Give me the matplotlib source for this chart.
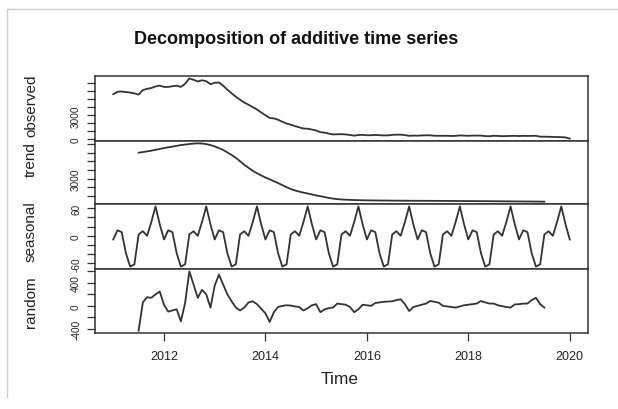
import numpy as np
import matplotlib
matplotlib.use("Agg")
import matplotlib.pyplot as plt
from matplotlib.lines import Line2D

plt.rcParams["font.family"] = ["Liberation Sans", "DejaVu Sans"]

# Monthly series starting January 2011
start_year = 2011
freq = 12

observed = [
    5640, 5950, 5980, 5920, 5850, 5750,
    5592, 6160, 6320, 6420, 6614, 6725,
    6562, 6552, 6648, 6712, 6563, 6948, 7623, 7450, 7240, 7390, 7274, 6895,
    7082, 7107, 6708, 6212, 5763, 5328, 4953, 4600, 4330, 4030, 3734, 3365,
    3012, 2672, 2618, 2442, 2203, 1978, 1828, 1650, 1500, 1350, 1324, 1225,
    1102, 892, 838, 712, 613, 628, 643, 610, 540, 460, 534, 560,
    507, 512, 553, 512, 488, 493, 558, 580, 583, 525, 436, 465,
    450, 487, 500, 497, 451, 438, 445, 440, 417, 434, 485, 463,
    437, 464, 467, 463, 406, 388, 449, 422, 393, 404, 424, 436,
    404, 430, 422, 432, 438, 328, 328, 320, 300, 290, 270, 240,
    90,
]

# Centred moving average: defined from July 2011 to July 2019
trend_offset = 6
trend = [
    6020, 6090, 6170, 6250, 6350, 6450,
    6550, 6640, 6720, 6810, 6900, 6960, 7020, 7070, 7100, 7080, 7010, 6900,
    6740, 6550, 6330, 6050, 5750, 5420, 5030, 4620, 4270, 3920, 3640, 3390,
    3150, 2940, 2720, 2500, 2270, 2030, 1820, 1650, 1520, 1400, 1300, 1190,
    1080, 990, 890, 790, 710, 650, 610, 580, 560, 540, 530, 515,
    505, 500, 495, 490, 485, 480, 475, 470, 468, 465, 462, 460,
    458, 455, 452, 450, 448, 445, 442, 440, 437, 434, 431, 428,
    425, 422, 419, 416, 413, 410, 406, 402, 398, 394, 390, 386,
    382, 378, 374, 370, 365, 360, 355,
]

# One seasonal figure per calendar month (Jan..Dec)
seasonal_pattern = [-8, 12, 8, -38, -67, -62, 3, 10, 0, 30, 64, 25]

random_part = [
    -431, 60, 150, 140, 200, 250,
    20, -100, -80, -60, -270, 50, 600, 370, 140, 280, 200, -30,
    350, 545, 370, 200, 80, -30, -80, -30, 60, 80, 30, -50,
    -130, -280, -110, -20, 0, 10, 5, -10, -20, -80, -40, 10,
    30, -110, -60, -40, -30, 40, 30, 20, -20, -110, -60, 20,
    10, 0, 50, 60, 70, 75, 80, 100, 115, 30, -90, -20,
    0, 20, 40, 85, 70, 55, 0, -10, -20, -30, -10, 10,
    20, 30, 40, 85, 60, 40, 40, 10, -5, -20, -30, 25,
    30, 40, 40, 100, 140, 30, -30,
]

x_ticks = [2012, 2014, 2016, 2018, 2020]

n = len(observed)
t_full = start_year + np.arange(n) / freq
t_part = start_year + (trend_offset + np.arange(len(trend))) / freq
seasonal = np.tile(seasonal_pattern, n // freq + 1)[:n]

panels = [
    ("observed", t_full, observed, np.arange(0, 8001, 1000), {0: "0", 3000: "3000"}),
    ("trend", t_part, trend, np.arange(0, 8001, 1000), {3000: "3000"}),
    ("seasonal", t_full, seasonal, np.arange(-80, 81, 20), {-60: "-60", 0: "0", 60: "60"}),
    ("random", t_part, random_part, np.arange(-400, 601, 200), {-400: "-400", 0: "0", 400: "400"}),
]

W, H = 618, 410
fig = plt.figure(figsize=(W / 100, H / 100), dpi=100)
fig.patch.set_facecolor("white")

# light frame around the graphic
fig.add_artist(Line2D([7 / W, 7 / W], [1 - 10 / H, 1 - 398 / H], color="#cfcfcf", lw=1.0))
fig.add_artist(Line2D([7 / W, 1.0], [1 - 10 / H, 1 - 10 / H], color="#cfcfcf", lw=1.0))

left, right = 95, 588
edges = [77, 142, 205, 270, 334]
label_centres = [106, 160, 232, 302]
line_col = "#333333"
t0, t1 = start_year, start_year + (n - 1) / freq
pad_x = 0.04 * (t1 - t0)

for i, (name, tx, vals, ticks, lbls) in enumerate(panels):
    top, bot = edges[i], edges[i + 1]
    ax = fig.add_axes([left / W, 1 - bot / H, (right - left) / W, (bot - top) / H])
    v = np.asarray(vals, dtype=float)
    lo, hi = v.min(), v.max()
    rng = hi - lo
    ax.plot(tx, v, color=line_col, lw=1.3)
    ax.set_xlim(t0 - pad_x, t1 + pad_x)
    ax.set_ylim(lo - 0.04 * rng, hi + 0.04 * rng)
    vis = [tk for tk in ticks if lo - 0.04 * rng <= tk <= hi + 0.04 * rng]
    ax.set_yticks(vis)
    ax.set_yticklabels([lbls.get(int(tk), "") for tk in vis], rotation=90, va="center",
                       fontsize=7.2, color="#222222")
    ax.tick_params(axis="y", length=6, width=0.9, color=line_col, pad=4)
    for s in ax.spines.values():
        s.set_color(line_col)
        s.set_linewidth(1.1)
    if i < 3:
        ax.set_xticks([])
    else:
        ax.set_xticks(x_ticks)
        ax.set_xticklabels([str(x) for x in x_ticks], fontsize=9, color="#222222")
        ax.tick_params(axis="x", length=6, width=0.9, color=line_col, pad=6)
    fig.text(31 / W, 1 - label_centres[i] / H, name, rotation=90, ha="center",
             va="center", fontsize=11, color="#222222")

fig.text(296 / W, 1 - 40 / H, "Decomposition of additive time series", ha="center",
         va="center", fontsize=13, fontweight="bold", color="#111111")
fig.text(340 / W, 1 - 380 / H, "Time", ha="center", va="center", fontsize=12.5,
         color="#222222")

fig.savefig("out.png", dpi=100)
